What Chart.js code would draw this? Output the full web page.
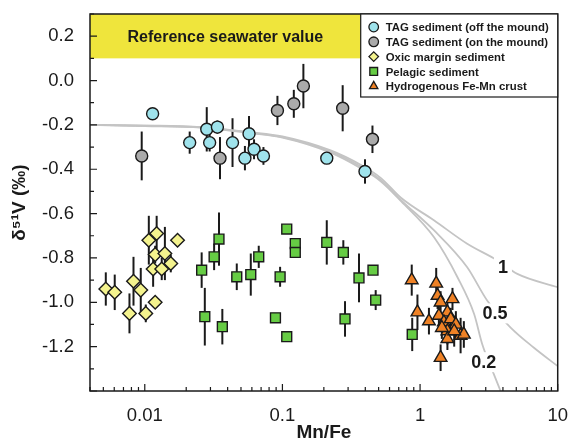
<!DOCTYPE html>
<html>
<head>
<meta charset="utf-8">
<title>δ51V vs Mn/Fe</title>
<script src="https://cdn.jsdelivr.net/npm/chart.js@4.4.0/dist/chart.umd.min.js"></script>
<style>
  html, body { margin: 0; padding: 0; background: #fff; }
  #wrap { width: 574px; height: 444px; }
</style>
</head>
<body>
<div id="wrap"><canvas id="chart"></canvas></div>
<script>
// TAG sediment, off the mound
var tagOffX = [0.0114, 0.0212, 0.0282, 0.0296, 0.0337, 0.0434, 0.0572, 0.0622, 0.0534, 0.0728, 0.210, 0.398];
var tagOffY = [-0.15, -0.28, -0.22, -0.28, -0.21, -0.28, -0.24, -0.31, -0.35, -0.34, -0.35, -0.41];
var tagOffErr = [0, 0.05, 0.1, 0.04, 0.03, 0.11, 0.08, 0.045, 0.055, 0.04, 0.01, 0.055];

// TAG sediment, on the mound
var tagOnX = [0.0095, 0.0352, 0.092, 0.121, 0.142, 0.274, 0.451];
var tagOnY = [-0.34, -0.35, -0.135, -0.105, -0.025, -0.125, -0.265];
var tagOnErr = [0.11, 0.095, 0.066, 0.063, 0.1, 0.104, 0.062];

// Oxic margin sediment
var oxicX = [0.00521, 0.00605, 0.00828, 0.00935, 0.00774, 0.01017, 0.0119, 0.0107, 0.0122, 0.0173, 0.0119, 0.0140, 0.01545, 0.0115, 0.01328];
var oxicY = [-0.94, -0.955, -0.905, -0.945, -1.05, -1.05, -1.0, -0.72, -0.69, -0.72, -0.785, -0.78, -0.825, -0.85, -0.85];
var oxicErr = [0.075, 0.08, 0.11, 0.1, 0.09, 0.04, 0.02, 0.11, 0.08, 0.02, 0.04, 0.12, 0.04, 0.08, 0.05];

// Pelagic sediment
var pelX = [0.0259, 0.0319, 0.0346, 0.0273, 0.0366, 0.0466, 0.0589, 0.0673, 0.0962, 0.1075, 0.124, 0.124, 0.089, 0.1075, 0.210, 0.277, 0.285, 0.360, 0.455, 0.476, 0.877];
var pelY = [-0.855, -0.795, -0.715, -1.065, -1.11, -0.885, -0.875, -0.795, -0.885, -0.67, -0.735, -0.775, -1.07, -1.155, -0.73, -0.775, -1.075, -0.89, -0.855, -0.99, -1.145];
var pelErr = [0.08, 0.06, 0.12, 0.13, 0.08, 0.06, 0.095, 0.05, 0.045, 0.015, 0.02, 0.015, 0, 0.01, 0.1, 0.055, 0.08, 0.11, 0.015, 0.045, 0.075];

// Hydrogenous Fe-Mn crust
var crustX = [0.87, 1.31, 0.957, 1.16, 1.72, 1.34, 1.41, 1.58, 1.37, 1.49, 1.67, 1.82, 1.58, 1.97, 2.08, 1.58, 1.41, 1.44, 1.77];
var crustY = [-0.9, -0.915, -1.045, -1.085, -0.985, -0.97, -1.0, -1.045, -1.06, -1.09, -1.075, -1.1, -1.13, -1.15, -1.145, -1.165, -1.25, -1.115, -1.13];
var crustErr = [0.07, 0.07, 0.08, 0.06, 0.05, 0.06, 0.05, 0.05, 0.05, 0.05, 0.05, 0.06, 0.06, 0.08, 0.06, 0.05, 0.06, 0.05, 0.07];

// mixing curves
var c1X = [0.004, 0.01, 0.0255, 0.0588, 0.1, 0.224, 0.37, 0.52, 0.73, 1.26, 2.2, 3.64, 5.09, 10];
var c1Y = [-0.2, -0.203, -0.21, -0.233, -0.252, -0.315, -0.38, -0.44, -0.53, -0.63, -0.736, -0.811, -0.872, -0.932];
var c05X = [0.004, 0.01, 0.0255, 0.0588, 0.1, 0.224, 0.37, 0.52, 0.73, 1.26, 2.2, 3.08, 4.55, 6.72, 10];
var c05Y = [-0.2, -0.204, -0.211, -0.235, -0.255, -0.32, -0.388, -0.449, -0.54, -0.675, -0.842, -0.993, -1.114, -1.205, -1.288];
var c02X = [0.004, 0.01, 0.0255, 0.0588, 0.1, 0.224, 0.37, 0.52, 0.73, 1.26, 1.87, 2.47, 2.83, 3.44, 3.85];
var c02Y = [-0.2, -0.205, -0.212, -0.237, -0.257, -0.325, -0.395, -0.455, -0.545, -0.706, -0.887, -1.053, -1.189, -1.325, -1.401];

var curveLabels = ['1', '0.5', '0.2'];
var curveLabelX = [4.0, 3.5, 2.9];
var curveLabelY = [-0.84, -1.05, -1.27];

var seawaterLow = 0.1, seawaterHigh = 0.3;

var FONT = "Arial, 'Liberation Sans', sans-serif";
var INK = '#1a1a1a';

function pts(xs, ys) {
  return xs.map(function (x, i) { return {x: x, y: ys[i]}; });
}

function marker(ctx, style, x, y, r, fill) {
  ctx.beginPath();
  if (style === 'circle') {
    ctx.arc(x, y, r, 0, Math.PI * 2);
  } else if (style === 'rectRot') {
    ctx.moveTo(x - r, y); ctx.lineTo(x, y - r); ctx.lineTo(x + r, y); ctx.lineTo(x, y + r);
  } else if (style === 'rect') {
    var s = r * Math.SQRT1_2;
    ctx.rect(x - s, y - s, 2 * s, 2 * s);
  } else if (style === 'triangle') {
    ctx.moveTo(x - Math.sin(Math.PI / 3) * r, y + r / 2);
    ctx.lineTo(x, y - r);
    ctx.lineTo(x + Math.sin(Math.PI / 3) * r, y + r / 2);
  }
  ctx.closePath();
  ctx.fillStyle = fill;
  ctx.fill();
  ctx.lineWidth = 1.3;
  ctx.strokeStyle = INK;
  ctx.stroke();
}

var decor = {
  id: 'decor',
  beforeDatasetsDraw: function (chart) {
    var ctx = chart.ctx, a = chart.chartArea;
    var xs = chart.scales.x, ys = chart.scales.y;
    ctx.save();
    // seawater band
    var yt = ys.getPixelForValue(seawaterHigh), yb = ys.getPixelForValue(seawaterLow);
    ctx.fillStyle = '#efe53c';
    ctx.fillRect(a.left, yt, a.right - a.left, yb - yt);
    ctx.fillStyle = INK;
    ctx.font = 'bold 16px ' + FONT;
    ctx.textAlign = 'center';
    ctx.textBaseline = 'middle';
    ctx.fillText('Reference seawater value', (a.left + a.right - 197) / 2, (yt + yb) / 2 + 1);
    // error bars
    ctx.strokeStyle = INK;
    ctx.lineWidth = 2;
    chart.data.datasets.forEach(function (ds) {
      if (!ds.err) return;
      ds.data.forEach(function (p, i) {
        var e = ds.err[i];
        if (!e) return;
        var px = xs.getPixelForValue(p.x);
        ctx.beginPath();
        ctx.moveTo(px, ys.getPixelForValue(p.y + e));
        ctx.lineTo(px, ys.getPixelForValue(p.y - e));
        ctx.stroke();
      });
    });
    ctx.restore();
  },
  afterDatasetsDraw: function (chart) {
    var ctx = chart.ctx, a = chart.chartArea;
    var xs = chart.scales.x, ys = chart.scales.y;
    ctx.save();
    // curve labels
    ctx.font = 'bold 18px ' + FONT;
    ctx.textAlign = 'center';
    ctx.textBaseline = 'middle';
    curveLabels.forEach(function (t, i) {
      var px = xs.getPixelForValue(curveLabelX[i]), py = ys.getPixelForValue(curveLabelY[i]);
      var w = ctx.measureText(t).width + 8;
      ctx.fillStyle = '#fff';
      ctx.fillRect(px - w / 2, py - 10, w, 20);
      ctx.fillStyle = INK;
      ctx.fillText(t, px, py + 1);
    });
    // frame
    ctx.strokeStyle = INK;
    ctx.lineWidth = 1.5;
    ctx.strokeRect(a.left, a.top, a.right - a.left, a.bottom - a.top);
    // inside ticks, y
    ctx.lineWidth = 1.2;
    ctx.beginPath();
    for (var i = -14; i <= 3; i++) {
      var py = ys.getPixelForValue(i / 10);
      var len = (i % 2 === 0) ? 7 : 4;
      ctx.moveTo(a.left, py); ctx.lineTo(a.left + len, py);
    }
    // inside ticks, x
    for (var d = -3; d <= 1; d++) {
      for (var m = 1; m <= 9; m++) {
        var v = m * Math.pow(10, d);
        if (v < 0.004 - 1e-9 || v > 10 + 1e-9) continue;
        var px = xs.getPixelForValue(v);
        var l = (m === 1) ? 7 : 4;
        ctx.moveTo(px, a.bottom); ctx.lineTo(px, a.bottom - l);
      }
    }
    ctx.stroke();
    // legend box
    var bw = 197, bh = 83, bx = a.right - bw, by = a.top;
    ctx.fillStyle = '#fff';
    ctx.fillRect(bx, by, bw, bh);
    ctx.lineWidth = 1.2;
    ctx.strokeRect(bx, by, bw, bh);
    ctx.font = 'bold 11.4px ' + FONT;
    ctx.textAlign = 'left';
    var row = 0;
    chart.data.datasets.forEach(function (ds) {
      if (!ds.err) return;
      var ry = by + 13 + row * 14.8;
      var r = ds.pointStyle === 'rect' ? 5.5 : 4.8;
      marker(ctx, ds.pointStyle, bx + 13, ry, r, ds.backgroundColor);
      ctx.fillStyle = INK;
      ctx.fillText(ds.label, bx + 25, ry + 1);
      row++;
    });
    ctx.restore();
  }
};

function curve(label, xs, ys) {
  return {
    label: label, data: pts(xs, ys), showLine: true, pointRadius: 0,
    borderColor: '#c4c4c4', borderWidth: 1.8, cubicInterpolationMode: 'monotone',
    fill: false, order: 10
  };
}

function group(label, xs, ys, err, style, r, color) {
  return {
    label: label, data: pts(xs, ys), err: err, pointStyle: style, pointRadius: r,
    backgroundColor: color, borderColor: INK, borderWidth: 1.4, order: 1
  };
}

new Chart(document.getElementById('chart'), {
  type: 'scatter',
  data: {
    datasets: [
      group('TAG sediment (off the mound)', tagOffX, tagOffY, tagOffErr, 'circle', 6, '#9fe3ec'),
      group('TAG sediment (on the mound)', tagOnX, tagOnY, tagOnErr, 'circle', 6, '#aaaaaa'),
      group('Oxic margin sediment', oxicX, oxicY, oxicErr, 'rectRot', 6.8, '#f4f38e'),
      group('Pelagic sediment', pelX, pelY, pelErr, 'rect', 7, '#66cc44'),
      group('Hydrogenous Fe-Mn crust', crustX, crustY, crustErr, 'triangle', 7.3, '#ef8226'),
      curve('1', c1X, c1Y),
      curve('0.5', c05X, c05Y),
      curve('0.2', c02X, c02Y)
    ]
  },
  options: {
    responsive: true,
    maintainAspectRatio: false,
    animation: false,
    layout: { padding: { top: 14, right: 15, left: 0, bottom: 0 } },
    plugins: { legend: { display: false }, tooltip: { enabled: false } },
    scales: {
      x: {
        type: 'logarithmic', min: 0.004, max: 10,
        grid: { display: false }, border: { display: false },
        ticks: {
          autoSkip: false, maxRotation: 0, padding: 6, color: INK,
          font: { size: 18.5, family: FONT },
          callback: function (v) {
            var l = Math.log10(v);
            if (Math.abs(l - Math.round(l)) > 1e-6) return '';
            l = Math.round(l);
            return l < 0 ? v.toFixed(-l) : String(Math.round(v));
          }
        },
        title: { display: true, text: 'Mn/Fe', color: INK, font: { size: 19, weight: 'bold', family: FONT, lineHeight: 1 }, padding: { top: 0, bottom: 2 } },
        afterFit: function (s) { s.height = 53; }
      },
      y: {
        min: -1.4, max: 0.3,
        grid: { display: false }, border: { display: false },
        ticks: {
          stepSize: 0.2, includeBounds: false, padding: 8, color: INK,
          font: { size: 18.5, family: FONT, lineHeight: 0.5 },
          callback: function (v) { return Math.abs(v) < 1e-9 ? '0.0' : v.toFixed(1); }
        },
        title: { display: true, text: 'δ⁵¹V (‰)', color: INK, font: { size: 19, weight: 'bold', family: FONT, lineHeight: 1 }, padding: { top: 10, bottom: 0 } },
        afterFit: function (s) { s.width = 90; }
      }
    }
  },
  plugins: [decor]
});
</script>
</body>
</html>
